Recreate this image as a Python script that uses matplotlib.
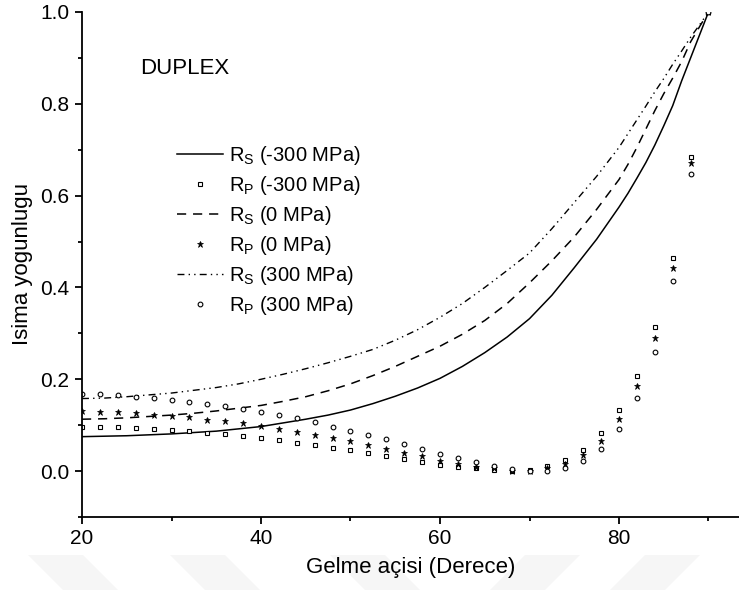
import matplotlib
matplotlib.use("Agg")
import matplotlib.pyplot as plt
from matplotlib.ticker import MultipleLocator
from matplotlib.patches import Polygon

plt.rcParams['font.family'] = ['Liberation Sans', 'DejaVu Sans']

# Rs curves (angle in degrees)
rs_x = [20, 22.5, 25, 27.5, 30, 32.5, 35, 37.5, 40, 42.5, 45, 47.5, 50, 52.5, 55, 57.5, 60,
        62.5, 65, 67.5, 70, 72.5, 75, 77.5, 80, 81, 82, 83, 84, 85, 86, 87, 88, 89, 90]
rs_neg = [0.075, 0.076, 0.077, 0.079, 0.081, 0.084, 0.087, 0.092, 0.097, 0.105, 0.113, 0.122,
          0.133, 0.147, 0.163, 0.181, 0.202, 0.228, 0.258, 0.292, 0.332, 0.383, 0.443, 0.505,
          0.575, 0.605, 0.638, 0.672, 0.71, 0.752, 0.796, 0.85, 0.9, 0.95, 1.0]
rs_zero = [0.113, 0.114, 0.116, 0.119, 0.122, 0.126, 0.131, 0.137, 0.143, 0.152, 0.162, 0.175,
           0.19, 0.208, 0.228, 0.25, 0.272, 0.298, 0.328, 0.365, 0.41, 0.458, 0.51, 0.57,
           0.635, 0.668, 0.705, 0.745, 0.785, 0.822, 0.856, 0.892, 0.935, 0.968, 1.0]
rs_pos = [0.158, 0.159, 0.162, 0.166, 0.17, 0.176, 0.182, 0.19, 0.2, 0.211, 0.223, 0.236,
          0.25, 0.265, 0.285, 0.308, 0.335, 0.365, 0.4, 0.437, 0.475, 0.528, 0.585, 0.642,
          0.705, 0.735, 0.765, 0.795, 0.826, 0.855, 0.886, 0.915, 0.945, 0.972, 1.0]

# Rp points
rp_x = [20, 22, 24, 26, 28, 30, 32, 34, 36, 38, 40, 42, 44, 46, 48, 50, 52, 54, 56, 58,
        60, 62, 64, 66, 68, 70, 72, 74, 76, 78, 80, 82, 84, 86, 88, 90]
rp_neg = [0.097, 0.096, 0.096, 0.094, 0.092, 0.090, 0.087, 0.083, 0.080, 0.077, 0.072, 0.067,
          0.062, 0.057, 0.051, 0.046, 0.039, 0.033, 0.026, 0.020, 0.014, 0.010, 0.006, 0.003,
          0.001, 0.002, 0.012, 0.024, 0.047, 0.082, 0.133, 0.207, 0.313, 0.465, 0.685, 1.0]
rp_zero = [0.130, 0.129, 0.128, 0.126, 0.123, 0.120, 0.117, 0.112, 0.109, 0.104, 0.098, 0.092,
           0.086, 0.079, 0.072, 0.065, 0.057, 0.049, 0.040, 0.032, 0.023, 0.016, 0.010, 0.006,
           0.000, 0.001, 0.006, 0.015, 0.035, 0.066, 0.113, 0.185, 0.289, 0.443, 0.670, 1.0]
rp_pos = [0.169, 0.167, 0.165, 0.162, 0.159, 0.155, 0.151, 0.146, 0.141, 0.135, 0.129, 0.122,
          0.115, 0.107, 0.097, 0.088, 0.079, 0.069, 0.058, 0.048, 0.038, 0.028, 0.019, 0.012,
          0.005, 0.000, 0.001, 0.007, 0.022, 0.048, 0.091, 0.159, 0.260, 0.415, 0.648, 1.0]

W, H = 739, 590
fig = plt.figure(figsize=(W / 100, H / 100), dpi=100)

# very faint watermark shapes at the bottom (behind everything)
def px(x, y):
    return (x / W, 1 - y / H)

for x0 in [28, 170, 330]:
    fig.patches.append(Polygon([px(x0, 555), px(x0 + 55, 555), px(x0 + 90, 590), px(x0 + 35, 590)],
                               closed=True, transform=fig.transFigure, facecolor='#f6f6f6',
                               edgecolor='none', zorder=-5))
for x0 in [525, 645]:
    fig.patches.append(Polygon([px(x0, 555), px(x0 + 55, 555), px(x0 + 20, 590), px(x0 - 35, 590)],
                               closed=True, transform=fig.transFigure, facecolor='#f6f6f6',
                               edgecolor='none', zorder=-5))

ax = fig.add_axes([82 / W, (H - 517) / H, 657 / W, 505 / H])
ax.set_zorder(1)
ax.patch.set_alpha(0)

ax.plot(rs_x, rs_neg, color='black', lw=1.1, ls='-', label='R$_\\mathregular{S}$ (-300 MPa)')
ax.plot(rp_x, rp_neg, ls='none', marker='s', ms=3.2, mfc='white', mec='black', mew=0.8,
        label='R$_\\mathregular{P}$ (-300 MPa)')
ax.plot(rs_x, rs_zero, color='black', lw=1.1, ls=(0, (6, 4.5)), label='R$_\\mathregular{S}$ (0 MPa)')
ax.plot(rp_x, rp_zero, ls='none', marker='*', ms=4.5, mfc='black', mec='black', mew=0.5,
        label='R$_\\mathregular{P}$ (0 MPa)')
ax.plot(rs_x, rs_pos, color='black', lw=1.0, ls=(0, (5, 3, 1, 3, 1, 3)),
        label='R$_\\mathregular{S}$ (300 MPa)')
ax.plot(rp_x, rp_pos, ls='none', marker='o', ms=3.4, mfc='white', mec='black', mew=0.8,
        label='R$_\\mathregular{P}$ (300 MPa)')

ax.set_xlim(20, 20 + 657 / 8.95)
ax.set_ylim(-0.1, 1.0)
ax.xaxis.set_major_locator(MultipleLocator(20))
ax.xaxis.set_minor_locator(MultipleLocator(10))
ax.yaxis.set_major_locator(MultipleLocator(0.2))
ax.yaxis.set_minor_locator(MultipleLocator(0.1))
ax.yaxis.set_major_formatter(plt.FuncFormatter(lambda v, p: f"{v:.1f}"))
ax.spines['top'].set_visible(False)
ax.spines['right'].set_visible(False)
ax.spines['left'].set_linewidth(1.3)
ax.spines['bottom'].set_linewidth(1.3)
ax.tick_params(which='major', direction='out', length=5, width=1.3, labelsize=15, pad=4)
ax.tick_params(which='minor', direction='out', length=3, width=1.3)

ax.set_xlabel('Gelme açisi (Derece)', fontsize=16, labelpad=6)
ax.set_ylabel('Isima yogunlugu', fontsize=16, labelpad=5)

ax.text(26.5, 0.878, 'DUPLEX', fontsize=16, va='center', ha='left')

leg = ax.legend(loc='upper left', bbox_to_anchor=(0.132, 0.755), frameon=False, fontsize=14.5,
                numpoints=1, handlelength=2.3, handletextpad=0.3, labelspacing=0.35,
                borderaxespad=0)

fig.savefig('out.png', dpi=100)
